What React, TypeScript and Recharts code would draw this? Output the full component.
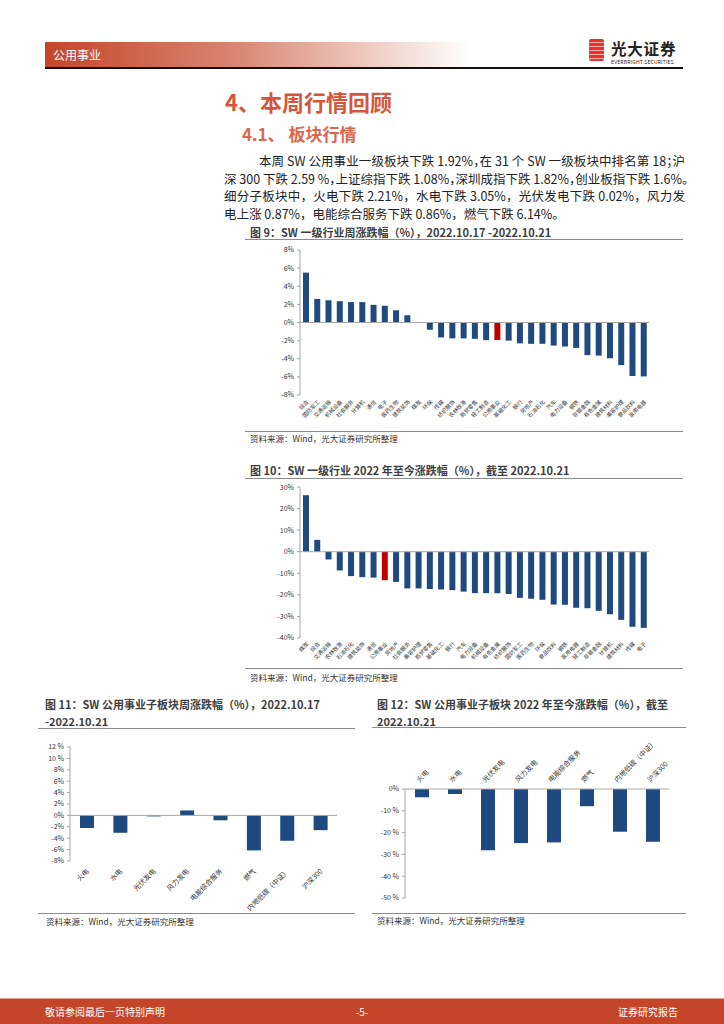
import React from "react";
import { BarChart, Bar, XAxis, YAxis, Cell, ReferenceLine } from "recharts";

// 图9：SW 一级行业周涨跌幅（%）
const weekNames = [
  "综合", "国防军工", "交通运输", "机械设备", "社会服务", "计算机", "通信", "电子",
  "医药生物", "建筑装饰", "煤炭", "环保", "传媒", "纺织服饰", "农林牧渔", "商贸零售",
  "轻工制造", "公用事业", "基础化工", "银行", "房地产", "石油石化", "汽车", "电力设备",
  "钢铁", "非银金融", "有色金属", "建筑材料", "美容护理", "食品饮料", "家用电器",
];
const weekValues = [
  5.5, 2.6, 2.45, 2.35, 2.25, 2.25, 1.95, 1.85, 1.35, 0.8, 0.05, -0.8, -1.65, -1.75,
  -1.75, -1.8, -1.95, -1.92, -2.0, -2.3, -2.35, -2.35, -2.55, -2.65, -2.8, -3.6, -3.65,
  -3.95, -4.7, -5.9, -5.95,
];
const weekTicks = [-8, -6, -4, -2, 0, 2, 4, 6, 8];

// 图10：SW 一级行业 2022 年至今涨跌幅（%）
const ytdNames = [
  "煤炭", "综合", "交通运输", "农林牧渔", "石油石化", "建筑装饰", "通信", "公用事业",
  "房地产", "社会服务", "美容护理", "商贸零售", "基础化工", "银行", "汽车", "电力设备",
  "机械设备", "有色金属", "纺织服饰", "国防军工", "医药生物", "环保", "食品饮料", "钢铁",
  "家用电器", "轻工制造", "非银金融", "计算机", "建筑材料", "传媒", "电子",
];
const ytdValues = [
  26.2, 5.5, -3.6, -8.7, -11.3, -11.8, -12.0, -13.2, -14.0, -17.0, -17.0, -17.3, -17.5,
  -17.8, -18.5, -19.2, -19.2, -19.2, -19.6, -21.4, -21.8, -22.3, -24.5, -24.6, -26.0,
  -26.2, -27.4, -29.0, -31.6, -34.8, -35.3,
];
const ytdTicks = [-40, -30, -20, -10, 0, 10, 20, 30];

// 图11 / 图12：公用事业子板块
const subNames = ["火电", "水电", "光伏发电", "风力发电", "电能综合服务", "燃气", "内地低碳（中证）", "沪深300"];
const subWeekValues = [-2.21, -3.05, -0.02, 0.87, -0.86, -6.14, -4.45, -2.59];
const subWeekTicks = [-8, -6, -4, -2, 0, 2, 4, 6, 8, 10, 12];
const subYtdValues = [-3.8, -2.3, -28.1, -24.8, -24.5, -7.9, -19.6, -24.2];
const subYtdTicks = [-50, -40, -30, -20, -10, 0];

const highlight = "公用事业";

const CN = '"Noto Sans CJK SC", "Noto Sans", sans-serif';
const BLUE = "#1F4A7F";
const RED = "#C00000";
const AXIS = "#A6A6A6";
const BRAND = "#C5452A";
const NBSP = "\u00a0";

const toRows = (names: string[], values: number[]) => names.map((name, i) => ({ name, value: values[i] }));
const weekData = toRows(weekNames, weekValues);
const ytdData = toRows(ytdNames, ytdValues);
const subWeekData = toRows(subNames, subWeekValues);
const subYtdData = toRows(subNames, subYtdValues);

const rotTick = (fs: number, dx: number, dy: number, anchor: "start" | "end") => (p: any) => {
  const x = p.x + dx;
  const y = p.y + dy;
  return (
    <text x={x} y={y} dy="0.35em" transform={`rotate(-45 ${x} ${y})`} textAnchor={anchor} fontSize={fs} fill="#333" fontFamily={CN}>
      {p.payload.value}
    </text>
  );
};

const yAxisProps = {
  axisLine: { stroke: AXIS },
  tickLine: { stroke: AXIS },
  tickSize: 3,
  tickMargin: 3,
  interval: 0 as const,
  tick: { fontSize: 7, fill: "#333", fontFamily: CN },
};

const abs = (left: number, top: number, extra: React.CSSProperties = {}): React.CSSProperties => ({
  position: "absolute",
  left,
  top,
  ...extra,
});

function Rule({ left, top, width }: { left: number; top: number; width: number }) {
  return <div style={abs(left, top, { width, height: 1, background: "#8c8c8c" })} />;
}

function Caption({ left, top, children }: { left: number; top: number; children: React.ReactNode }) {
  return (
    <div style={abs(left, top, { fontSize: 11, fontWeight: 700, color: "#404040", whiteSpace: "nowrap", lineHeight: "16px" })}>
      {children}
    </div>
  );
}

function Source({ left, top }: { left: number; top: number }) {
  return (
    <div style={abs(left, top, { fontSize: 8.5, color: "#333", whiteSpace: "nowrap", lineHeight: "12px" })}>
      资料来源：Wind，光大证券研究所整理
    </div>
  );
}

const paraLines = [
  "本周 SW 公用事业一级板块下跌 1.92%，在 31 个 SW 一级板块中排名第 18；沪",
  "深 300 下跌 2.59 %，上证综指下跌 1.08%，深圳成指下跌 1.82%，创业板指下跌 1.6%。",
  "细分子板块中，火电下跌 2.21%，水电下跌 3.05%，光伏发电下跌 0.02%，风力发",
  "电上涨 0.87%，电能综合服务下跌 0.86%，燃气下跌 6.14%。",
];

export default function App() {
  return (
    <div style={{ position: "absolute", left: 0, top: 0, width: 724, height: 1024, background: "#fff", fontFamily: CN, overflow: "hidden" }}>
      {/* header */}
      <div
        style={abs(45, 42, {
          width: 425,
          height: 26,
          background: `linear-gradient(to right, ${BRAND} 0%, #D98672 45%, rgba(255,255,255,0) 100%)`,
        })}
      />
      <div style={abs(53, 42, { color: "#fff", fontSize: 12, lineHeight: "26px" })}>公用事业</div>
      <div style={abs(45, 67, { width: 638, height: 1.5, background: "#111" })} />
      <div
        style={abs(589, 39, {
          width: 15,
          height: 22,
          borderRadius: 2,
          background: "repeating-linear-gradient(to bottom, #E8322A 0px, #E8322A 3px, #F7B0A8 3px, #F7B0A8 4px)",
        })}
      />
      <div style={abs(611, 40, { fontSize: 15.5, fontWeight: 700, color: "#222", lineHeight: "16px", letterSpacing: 0.8 })}>光大证券</div>
      <div style={abs(611, 59, { fontSize: 5, color: "#222", lineHeight: "5px", whiteSpace: "nowrap", letterSpacing: 0.2 })}>
        EVERBRIGHT SECURITIES
      </div>

      {/* headings */}
      <div style={abs(225, 88, { fontSize: 22, fontWeight: 700, color: "#D4553B", lineHeight: "26px", whiteSpace: "nowrap" })}>
        4、本周行情回顾
      </div>
      <div style={abs(242, 123, { fontSize: 17, fontWeight: 700, color: "#DA6850", lineHeight: "22px", whiteSpace: "nowrap" })}>
        4.1、 板块行情
      </div>

      {/* paragraph */}
      {paraLines.map((t, i) => (
        <div
          key={i}
          style={abs(i === 0 ? 259 : 224, 152 + i * 17.5, {
            width: i === 0 ? 426 : 461,
            fontSize: 12.5,
            lineHeight: "18px",
            color: "#222",
            whiteSpace: "nowrap",
            textAlign: "justify",
            textAlignLast: i === 3 ? "left" : "justify",
            fontFeatureSettings: i < 2 ? '"halt"' : "normal",
          })}
        >
          {t}
        </div>
      ))}

      {/* figure 9 */}
      <Caption left={250} top={224}>图 9：SW 一级行业周涨跌幅（%），2022.10.17 -2022.10.21</Caption>
      <Rule left={245} top={239} width={438} />
      <div style={abs(240, 243)}>
        <BarChart width={420} height={190} data={weekData} margin={{ top: 7, right: 11, bottom: 0, left: 0 }}>
          <XAxis dataKey="name" interval={0} height={38} axisLine={false} tickLine={false} tickSize={0} tickMargin={0} tick={rotTick(5.5, 2, 6, "end")} />
          <YAxis width={60} domain={[-8, 8]} ticks={weekTicks} tickFormatter={(v) => `${v}%`} {...yAxisProps} />
          <Bar dataKey="value" barSize={6} isAnimationActive={false}>
            {weekData.map((d) => (
              <Cell key={d.name} fill={d.name === highlight ? RED : BLUE} />
            ))}
          </Bar>
          <ReferenceLine y={0} stroke={AXIS} />
        </BarChart>
      </div>
      <Rule left={245} top={431} width={438} />
      <Source left={250} top={432} />

      {/* figure 10 */}
      <Caption left={250} top={462}>图 10：SW 一级行业 2022 年至今涨跌幅（%），截至 2022.10.21</Caption>
      <Rule left={245} top={478} width={438} />
      <div style={abs(240, 482)}>
        <BarChart width={420} height={185} data={ytdData} margin={{ top: 5, right: 11, bottom: 0, left: 0 }}>
          <XAxis dataKey="name" interval={0} height={29} axisLine={false} tickLine={false} tickSize={0} tickMargin={0} tick={rotTick(5.5, 2, 5, "end")} />
          <YAxis width={60} domain={[-40, 30]} ticks={ytdTicks} tickFormatter={(v) => `${v}%`} {...yAxisProps} />
          <Bar dataKey="value" barSize={6} isAnimationActive={false}>
            {ytdData.map((d) => (
              <Cell key={d.name} fill={d.name === highlight ? RED : BLUE} />
            ))}
          </Bar>
          <ReferenceLine y={0} stroke={AXIS} />
        </BarChart>
      </div>
      <Rule left={245} top={668} width={438} />
      <Source left={250} top={671} />

      {/* figure 11 */}
      <Caption left={45} top={696}>图 11：SW 公用事业子板块周涨跌幅（%），2022.10.17</Caption>
      <Caption left={45} top={713}>-2022.10.21</Caption>
      <Rule left={38} top={728} width={317} />
      <div style={abs(30, 740)}>
        <BarChart width={320} height={172} data={subWeekData} margin={{ top: 7, right: 13, bottom: 7, left: 0 }}>
          <XAxis dataKey="name" interval={0} height={44} axisLine={false} tickLine={false} tickSize={0} tickMargin={0} tick={rotTick(7, 1, 9, "end")} />
          <YAxis
            width={40}
            domain={[-8, 12]}
            ticks={subWeekTicks}
            tickFormatter={(v) => (Math.abs(v) >= 10 ? `${v}${NBSP}%` : `${v}%`)}
            {...yAxisProps}
          />
          <Bar dataKey="value" barSize={14} minPointSize={1} fill={BLUE} isAnimationActive={false} />
          <ReferenceLine y={0} stroke={AXIS} />
        </BarChart>
      </div>
      <Rule left={38} top={913} width={317} />
      <Source left={46} top={915} />

      {/* figure 12 */}
      <Caption left={377} top={696}>图 12：SW 公用事业子板块 2022 年至今涨跌幅（%），截至</Caption>
      <Caption left={377} top={713}>2022.10.21</Caption>
      <Rule left={372} top={727} width={314} />
      <div style={abs(372, 735)}>
        <BarChart width={310} height={170} data={subYtdData} margin={{ top: 0, right: 13, bottom: 7, left: 0 }}>
          <XAxis
            dataKey="name"
            orientation="top"
            interval={0}
            height={54}
            axisLine={{ stroke: AXIS }}
            tickLine={false}
            tickSize={0}
            tickMargin={0}
            tick={rotTick(7, -4, -8, "start")}
          />
          <YAxis
            width={33}
            domain={[-50, 0]}
            ticks={subYtdTicks}
            tickFormatter={(v) => (v === 0 ? "0%" : `${v}${NBSP}%`)}
            {...yAxisProps}
          />
          <Bar dataKey="value" barSize={14} fill={BLUE} isAnimationActive={false} />
        </BarChart>
      </div>
      <Rule left={372} top={913} width={314} />
      <Source left={377} top={914} />

      {/* footer */}
      <div style={abs(0, 998, { width: 724, height: 26, background: BRAND, borderTop: "1px solid #E3A08F" })} />
      <div style={abs(45, 1005, { color: "#fff", fontSize: 10, lineHeight: "14px" })}>敬请参阅最后一页特别声明</div>
      <div style={abs(352, 1005, { width: 20, textAlign: "center", color: "#fff", fontSize: 10, lineHeight: "14px" })}>-5-</div>
      <div style={abs(618, 1005, { width: 60, textAlign: "right", color: "#fff", fontSize: 10, lineHeight: "14px" })}>证券研究报告</div>
    </div>
  );
}
